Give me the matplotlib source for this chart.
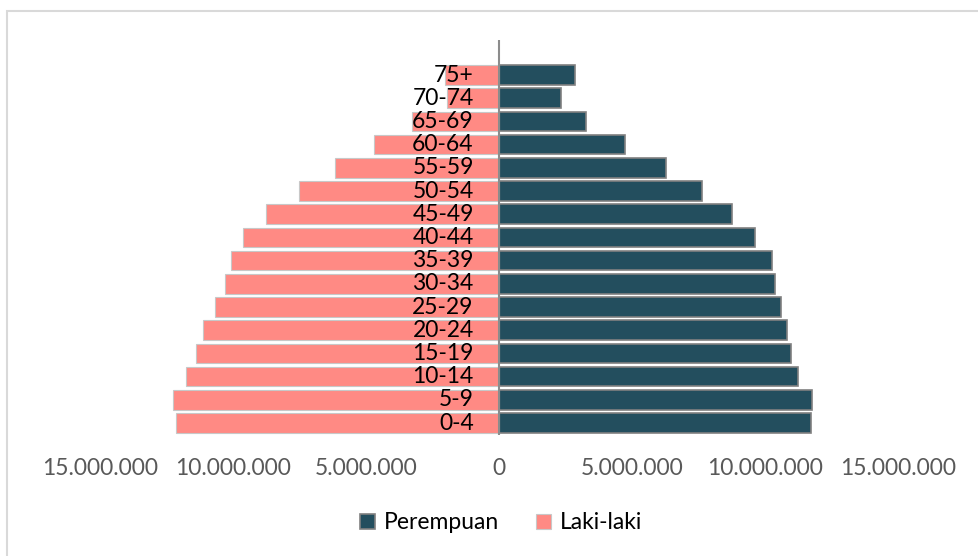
import matplotlib.pyplot as plt
import matplotlib.ticker as ticker
from matplotlib.patches import Rectangle

# age groups, bottom to top
age_groups = ['0-4', '5-9', '10-14', '15-19', '20-24', '25-29', '30-34', '35-39',
              '40-44', '45-49', '50-54', '55-59', '60-64', '65-69', '70-74', '75+']

# population per group
perempuan = [11730000, 11770000, 11240000, 10980000, 10830000, 10600000, 10380000, 10260000,
             9620000, 8760000, 7630000, 6280000, 4740000, 3270000, 2330000, 2860000]
laki_laki = [12140000, 12260000, 11770000, 11390000, 11130000, 10680000, 10300000, 10080000,
             9620000, 8760000, 7520000, 6170000, 4700000, 3270000, 1960000, 2030000]

x_ticks = [-15000000, -10000000, -5000000, 0, 5000000, 10000000, 15000000]

dark = '#234E5E'
salmon = '#FF8A84'

plt.rcParams['font.family'] = ['Lato', 'DejaVu Sans']

fig = plt.figure(figsize=(9.79, 5.56), dpi=100)
ax = fig.add_axes([100 / 979, 0.2183, 798 / 979, 0.7094])

y = list(range(len(age_groups)))
ax.barh(y, perempuan, height=0.85, color=dark, edgecolor='#808080', linewidth=1.2,
        label='Perempuan', zorder=2)
ax.barh(y, [-v for v in laki_laki], height=0.85, color=salmon, edgecolor='#C8C8C8',
        linewidth=0.8, label='Laki-laki', zorder=2)

ax.set_ylim(-0.5, len(age_groups) + 0.5)
ax.set_xlim(-15000000, 15000000)

# category labels sit next to the axis, over the left bars
for yi, lab in zip(y, age_groups):
    ax.text(-950000, yi, lab, ha='right', va='center', fontsize=16.5, color='black', zorder=3)

ax.axvline(0, color='#8C8C8C', linewidth=1.5, zorder=4)

ax.set_yticks([])
ax.set_xticks(x_ticks)
ax.xaxis.set_major_formatter(ticker.FuncFormatter(
    lambda v, p: '{:,.0f}'.format(abs(v)).replace(',', '.')))
ax.tick_params(axis='x', length=0, labelsize=16.5, labelcolor='#595959', pad=17)
for s in ax.spines.values():
    s.set_visible(False)

leg = ax.legend(loc='center', bbox_to_anchor=(0.503, -0.224), ncol=2, frameon=False,
                fontsize=16.5, handlelength=0.65, handleheight=0.65, handletextpad=0.4,
                columnspacing=1.6)

# chart border (right and bottom fall outside the image)
fig.patches.append(Rectangle((7 / 979, -0.1), 1.2, 1 - 10.5 / 556 + 0.1,
                             transform=fig.transFigure, fill=False,
                             edgecolor='#D9D9D9', linewidth=1.5))

fig.savefig('out.png', dpi=100)
